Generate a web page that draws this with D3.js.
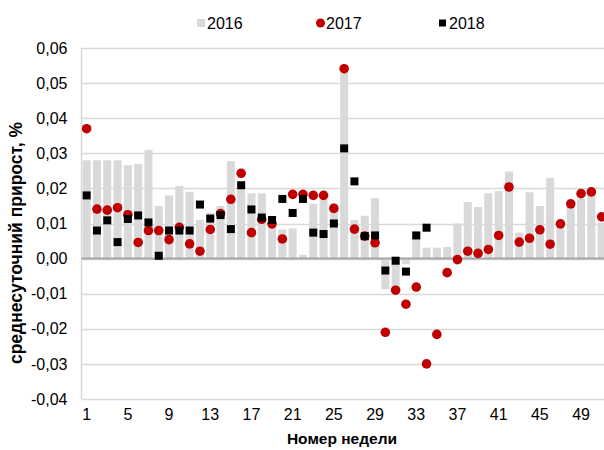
<!DOCTYPE html>
<html>
<head>
<meta charset="utf-8">
<script src="https://cdn.jsdelivr.net/npm/d3@7"></script>
<style>
  body { margin: 0; background: #fff; }
  svg { display: block; font-family: "Liberation Sans", Arial, sans-serif; }
</style>
</head>
<body>
<div id="chart"></div>
<script>
// week numbers (x categories)
var weeks = [1,2,3,4,5,6,7,8,9,10,11,12,13,14,15,16,17,18,19,20,21,22,23,24,25,26,
  27,28,29,30,31,32,33,34,35,36,37,38,39,40,41,42,43,44,45,46,47,48,49,50,51,52];
var weekTicks = [1,5,9,13,17,21,25,29,33,37,41,45,49];
var yTicks = [-0.04,-0.03,-0.02,-0.01,0,0.01,0.02,0.03,0.04,0.05,0.06];

// 2016 - bars
var v2016 = [0.028,0.028,0.028,0.028,0.0266,0.0269,0.031,0.015,0.018,0.0207,
  0.019,0.011,0.013,0.015,0.0278,0.0214,0.0186,0.0186,0.012,0.0083,
  0.0086,0.0011,0.0156,0.017,0.0157,0.0533,0.011,0.0122,0.0172,-0.0087,
  -0.0085,-0.0016,0.0076,0.0031,0.0031,0.0033,0.010,0.0161,0.0147,0.0186,
  0.0192,0.0248,0.0074,0.0189,0.015,0.023,0.0097,0.015,0.0171,0.018,0.0102];

// 2017 - red dots
var v2017 = [0.037,0.0141,0.0138,0.0145,0.0125,0.0046,0.008,0.008,0.0054,0.0089,
  0.0042,0.0021,0.0083,0.0128,0.0169,0.0243,0.0074,0.0112,0.0099,0.0056,
  0.0183,0.0183,0.018,0.018,0.0143,0.0541,0.0084,0.0064,0.0045,-0.021,
  -0.009,-0.013,-0.0081,-0.030,-0.0216,-0.004,-0.0003,0.0021,0.0015,0.0026,
  0.0066,0.0204,0.0047,0.0058,0.0082,0.0041,0.0099,0.0156,0.0185,0.019,0.0119];

// 2018 - black squares (up to week 34)
var v2018 = [0.018,0.008,0.0109,0.0047,0.0113,0.0123,0.0103,0.0008,0.008,0.008,
  0.008,0.0154,0.0114,0.0124,0.0084,0.0209,0.014,0.0117,0.011,0.017,
  0.013,0.017,0.0074,0.007,0.010,0.0314,0.022,0.0064,0.0066,-0.0034,
  -0.0006,-0.0037,0.0066,0.0088];

var W = 604, H = 450;
var plotLeft = 81.5, plotTop = 48, plotBottom = 399;

var svg = d3.select("#chart")
  .append("svg")
    .attr("width", W)
    .attr("height", H);

var x = d3.scaleBand()
  .domain(weeks)
  .range([plotLeft, plotLeft + 52 * 10.3])
  .paddingInner(0.22)
  .paddingOuter(0.11);

var y = d3.scaleLinear()
  .domain([-0.04, 0.06])
  .range([plotBottom, plotTop]);

var fmt = function(d) { return d3.format(".2f")(d).replace(".", ",").replace("−", "-"); };

// gridlines
svg.append("g")
  .selectAll("line")
  .data(yTicks)
  .enter()
  .append("line")
    .attr("x1", plotLeft)
    .attr("x2", W)
    .attr("y1", d => Math.round(y(d)) + 0.5)
    .attr("y2", d => Math.round(y(d)) + 0.5)
    .attr("stroke", "#d9d9d9")
    .attr("stroke-width", 1.5);

// left axis line
svg.append("line")
  .attr("x1", plotLeft).attr("x2", plotLeft)
  .attr("y1", plotTop).attr("y2", plotBottom)
  .attr("stroke", "#d9d9d9")
  .attr("stroke-width", 1.5);

// y axis labels
var yAxis = svg.append("g")
  .attr("transform", "translate(" + plotLeft + ",0)")
  .call(d3.axisLeft(y).tickValues(yTicks).tickFormat(fmt).tickSize(0).tickPadding(14));
yAxis.select(".domain").remove();
yAxis.selectAll("text")
  .style("font-size", "16px")
  .style("fill", "#000");

// bars 2016
svg.append("g")
  .selectAll("rect")
  .data(v2016)
  .enter()
  .append("rect")
    .attr("x", (d, i) => x(weeks[i]))
    .attr("width", x.bandwidth())
    .attr("y", d => y(Math.max(0, d)))
    .attr("height", d => Math.abs(y(d) - y(0)))
    .style("fill", "#d9d9d9");

// zero line
svg.append("line")
  .attr("x1", plotLeft).attr("x2", W)
  .attr("y1", y(0)).attr("y2", y(0))
  .attr("stroke", "#a6a6a6")
  .attr("stroke-width", 2);

// 2017 dots
svg.append("g")
  .selectAll("circle")
  .data(v2017)
  .enter()
  .append("circle")
    .attr("cx", (d, i) => x(weeks[i]) + x.bandwidth() / 2)
    .attr("cy", d => y(d))
    .attr("r", 4.8)
    .style("fill", "#c00000");

// 2018 squares
var s = 8;
svg.append("g")
  .selectAll("rect")
  .data(v2018)
  .enter()
  .append("rect")
    .attr("x", (d, i) => x(weeks[i]) + x.bandwidth() / 2 - s / 2)
    .attr("y", d => y(d) - s / 2)
    .attr("width", s)
    .attr("height", s)
    .style("fill", "#000");

// x axis labels
var xAxis = svg.append("g")
  .attr("transform", "translate(0," + plotBottom + ")")
  .call(d3.axisBottom(x).tickValues(weekTicks).tickSize(0).tickPadding(10));
xAxis.select(".domain").remove();
xAxis.selectAll("text")
  .style("font-size", "16px")
  .style("fill", "#000");

// axis titles
svg.append("text")
  .attr("transform", "rotate(-90)")
  .attr("x", -243)
  .attr("y", 21.5)
  .style("text-anchor", "middle")
  .style("font-size", "17.5px")
  .style("font-weight", "bold")
  .text("среднесуточний прирост, %");

svg.append("text")
  .attr("x", 342)
  .attr("y", 444)
  .style("text-anchor", "middle")
  .style("font-size", "15.5px")
  .style("font-weight", "bold")
  .text("Номер недели");

// legend
var years = ["2016", "2017", "2018"];
var legX = [197, 316, 439];
var leg = svg.append("g");
years.forEach(function(yr, i) {
  var g = leg.append("g").attr("transform", "translate(" + legX[i] + ",23)");
  if (i === 0) g.append("rect").attr("x", 0).attr("y", -4).attr("width", 8).attr("height", 8).style("fill", "#d9d9d9");
  if (i === 1) g.append("circle").attr("cx", 4.5).attr("cy", 0).attr("r", 4.5).style("fill", "#c00000");
  if (i === 2) g.append("rect").attr("x", 0).attr("y", -3.5).attr("width", 7).attr("height", 7).style("fill", "#000");
  g.append("text")
    .attr("x", 10)
    .attr("y", 5.5)
    .style("font-size", "16px")
    .text(yr);
});
</script>
</body>
</html>
